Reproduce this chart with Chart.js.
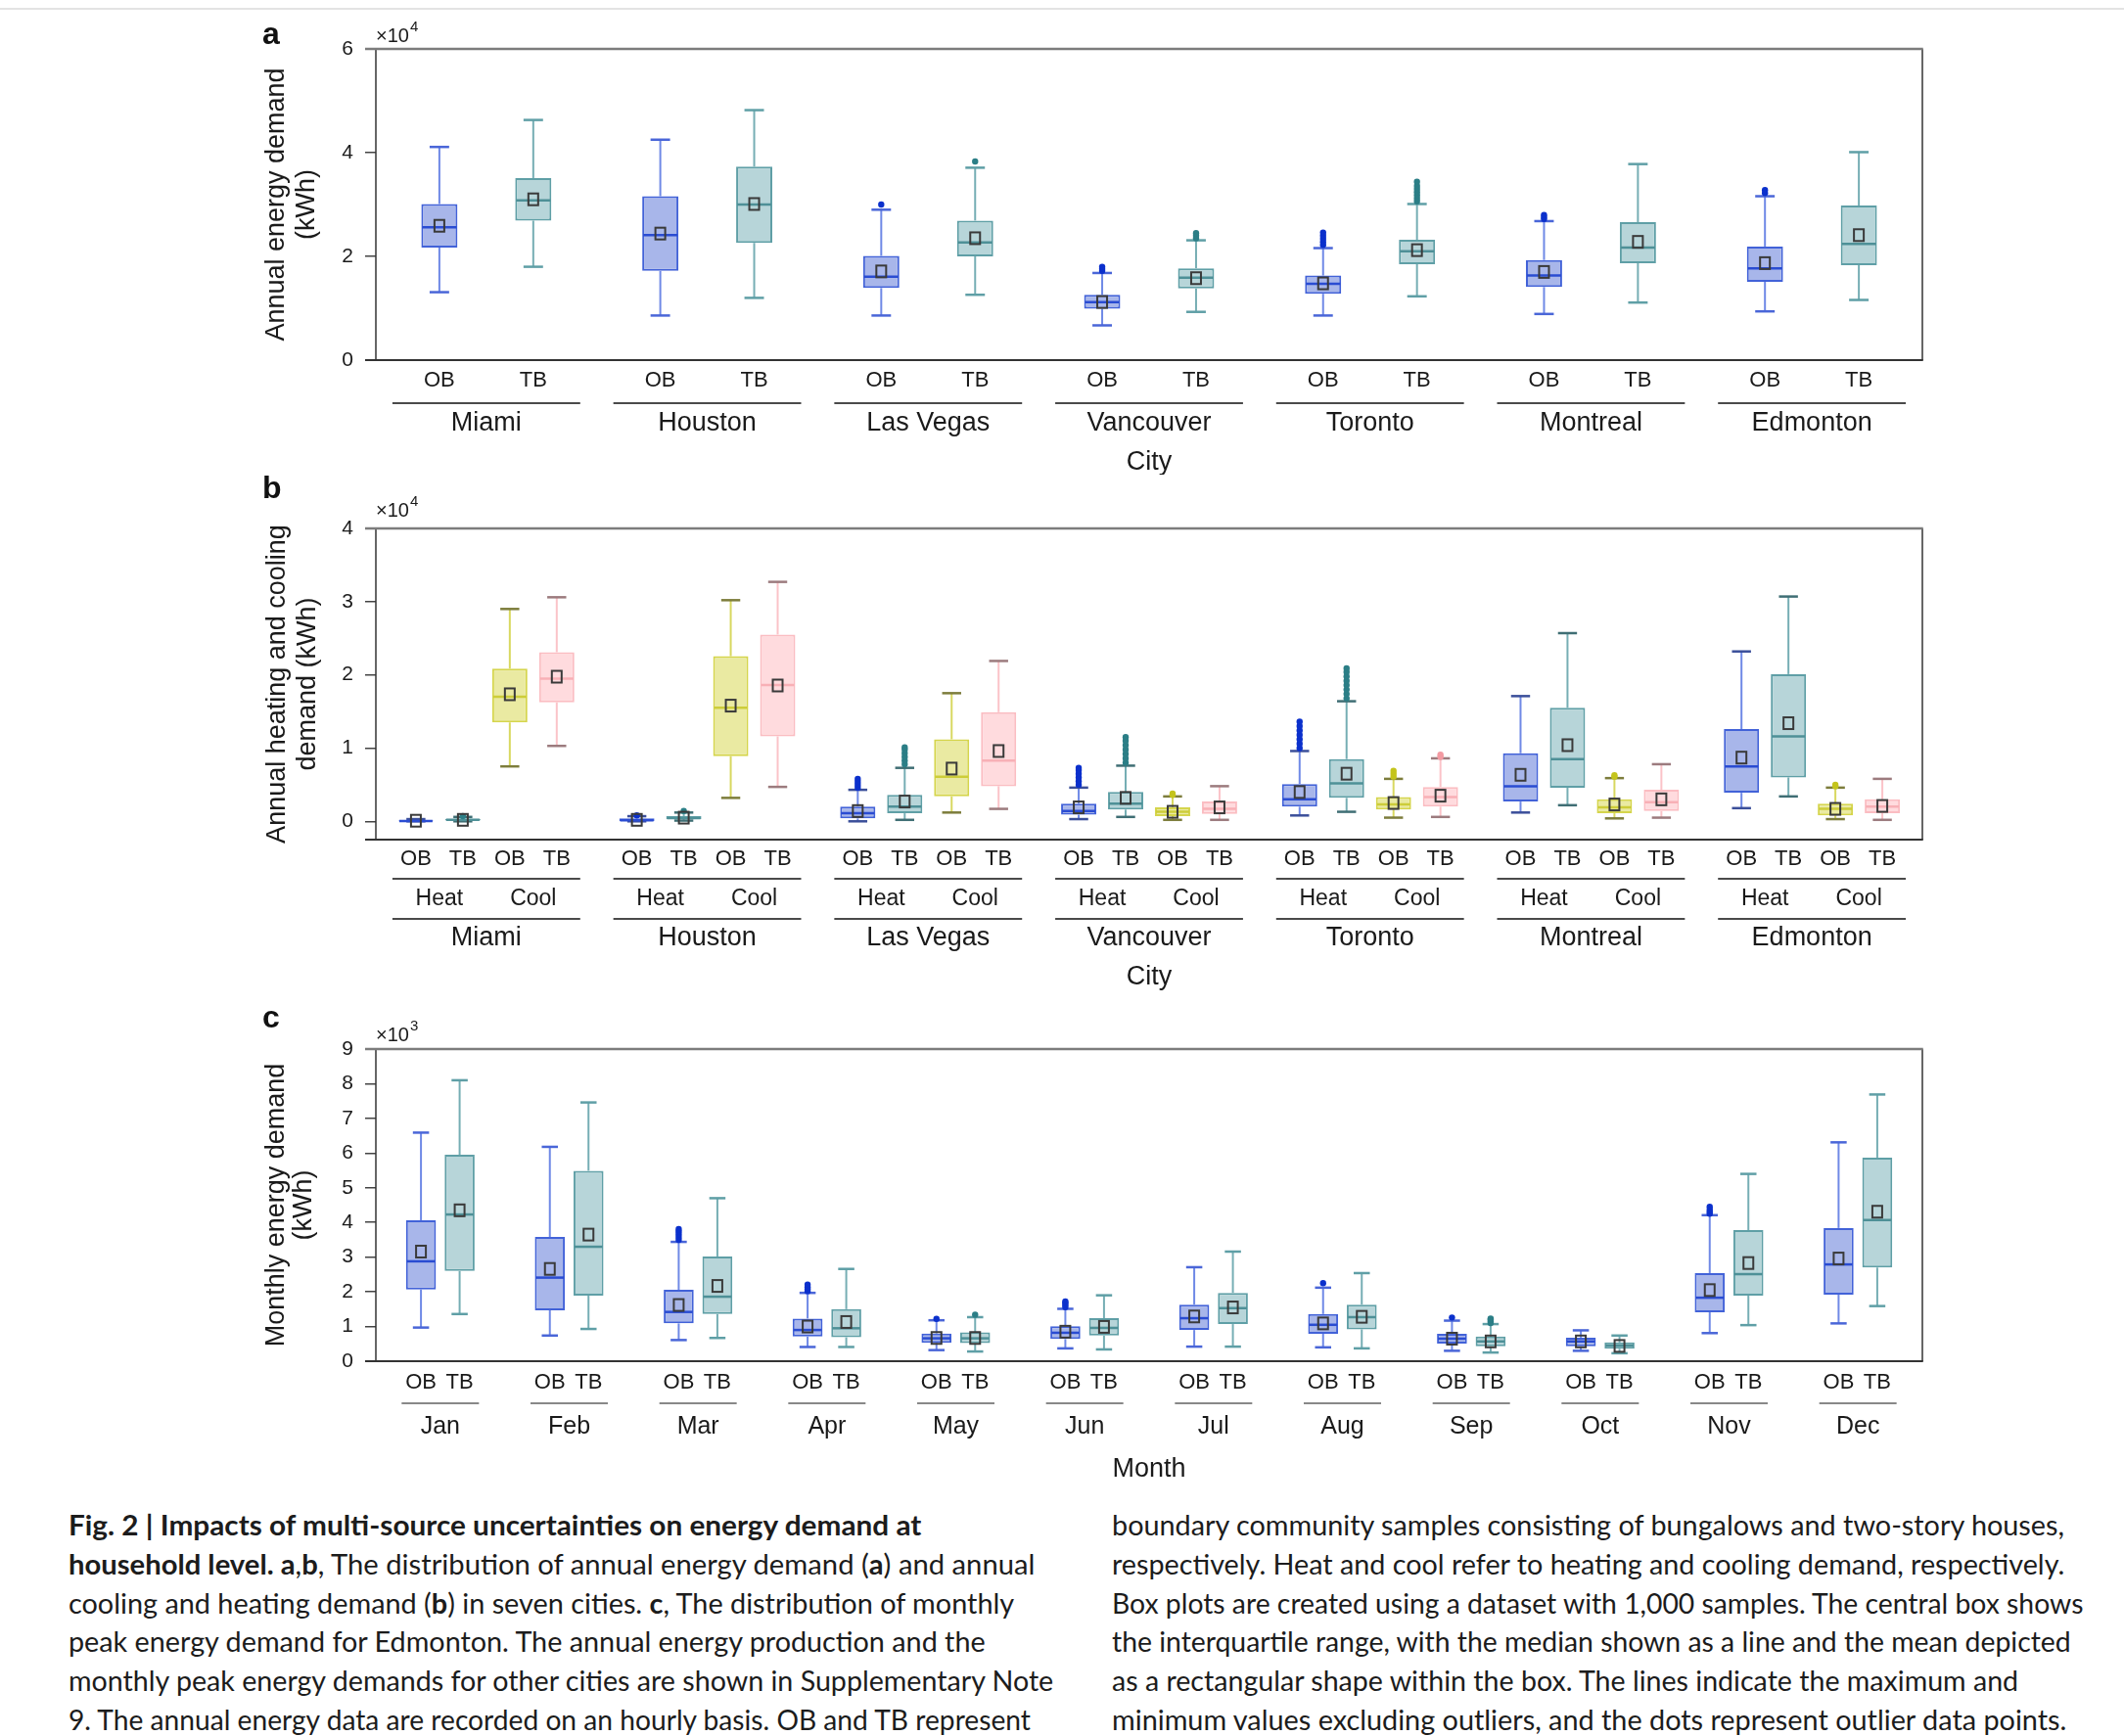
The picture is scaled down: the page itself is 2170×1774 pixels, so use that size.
<!DOCTYPE html>
<html><head><meta charset="utf-8">
<script src="https://cdn.jsdelivr.net/npm/chart.js@4.4.1/dist/chart.umd.min.js"></script>
<style>
html,body{margin:0;padding:0;background:#fff;}
body{width:2170px;height:1774px;position:relative;overflow:hidden;}
canvas{position:absolute;left:0;}
#topline{position:absolute;left:0;top:8px;width:2170px;height:2px;background:#e3e3e3;}
.cl{position:absolute;font-family:Lato,'Noto Sans',sans-serif;font-size:28px;line-height:28px;color:#1c1c1c;white-space:nowrap;transform-origin:0 0;}
.cl b{font-weight:700;}
</style></head><body>
<div id="topline"></div>
<canvas id="ca" width="2170" height="485" style="top:0px"></canvas>
<canvas id="cb" width="2170" height="545" style="top:485px"></canvas>
<canvas id="cc" width="2170" height="500" style="top:1030px"></canvas>
<div id="caption"></div>
<script>
// ---------------- DATA ----------------
const cities = ['Miami','Houston','Las Vegas','Vancouver','Toronto','Montreal','Edmonton'];
const months = ['Jan','Feb','Mar','Apr','May','Jun','Jul','Aug','Sep','Oct','Nov','Dec'];
const ticksA = [0,2,4,6];
const ticksB = [0,1,2,3,4];
const ticksC = [0,1,2,3,4,5,6,7,8,9];
// each row: [min, q1, median, q3, max, mean]  (a, b: x10^4 kWh; c: x10^3 kWh)
const annualOB = [
  [1.31,2.17,2.56,3.01,4.11,2.59],[0.86,1.72,2.41,3.16,4.25,2.44],[0.86,1.39,1.61,2.01,2.90,1.71],
  [0.67,0.99,1.12,1.26,1.68,1.12],[0.86,1.28,1.47,1.63,2.16,1.48],[0.89,1.41,1.63,1.93,2.68,1.70],
  [0.94,1.51,1.77,2.19,3.16,1.87]];
const annualTB = [
  [1.80,2.69,3.08,3.51,4.63,3.10],[1.20,2.26,3.00,3.73,4.82,3.01],[1.26,2.00,2.27,2.69,3.71,2.35],
  [0.93,1.38,1.59,1.77,2.31,1.58],[1.23,1.85,2.10,2.32,3.01,2.12],[1.11,1.87,2.17,2.66,3.78,2.28],
  [1.16,1.83,2.24,2.98,4.01,2.41]];
const annualOBOut = [[],[],[3.00],[1.72,1.76,1.80],[2.22,2.28,2.34,2.40,2.46],[2.72,2.76,2.80],[3.22,3.28]];
const annualTBOut = [[],[],[3.83],[2.35,2.40,2.45],[3.06,3.12,3.18,3.24,3.30,3.36,3.44],[],[]];

const heatOB = [
  [0,0.002,0.005,0.012,0.03,0.008],[0,0.005,0.015,0.04,0.07,0.02],[0,0.04,0.11,0.20,0.43,0.14],
  [0.03,0.09,0.14,0.24,0.46,0.19],[0.08,0.20,0.30,0.51,0.96,0.40],[0.12,0.27,0.48,0.93,1.71,0.635],
  [0.18,0.39,0.75,1.26,2.32,0.87]];
const heatTB = [
  [0,0.01,0.02,0.035,0.06,0.02],[0.01,0.03,0.045,0.07,0.12,0.05],[0.02,0.11,0.20,0.36,0.73,0.27],
  [0.06,0.16,0.24,0.40,0.76,0.32],[0.13,0.32,0.52,0.85,1.64,0.65],[0.22,0.46,0.85,1.55,2.57,1.04],
  [0.34,0.60,1.16,2.01,3.07,1.34]];
const coolOB = [
  [0.75,1.35,1.70,2.085,2.90,1.735],[0.32,0.89,1.55,2.255,3.02,1.58],[0.12,0.34,0.61,1.12,1.75,0.72],
  [0.02,0.07,0.13,0.19,0.34,0.13],[0.05,0.16,0.23,0.33,0.58,0.25],[0.04,0.11,0.19,0.30,0.59,0.23],
  [0.03,0.08,0.17,0.24,0.46,0.17]];
const coolTB = [
  [1.03,1.625,1.95,2.31,3.06,1.975],[0.47,1.16,1.86,2.55,3.27,1.855],[0.17,0.48,0.83,1.49,2.19,0.96],
  [0.02,0.10,0.17,0.27,0.48,0.19],[0.06,0.20,0.33,0.47,0.86,0.35],[0.05,0.14,0.26,0.43,0.78,0.30],
  [0.02,0.11,0.20,0.30,0.58,0.21]];
const heatOBOut = [[],[0.08],[0.46,0.50,0.54,0.58],[0.50,0.55,0.60,0.65,0.70,0.73],[1.00,1.06,1.12,1.18,1.24,1.30,1.36],[],[]];
const heatTBOut = [[0.07],[0.14],[0.78,0.83,0.88,0.93,0.98,1.01],[0.80,0.86,0.92,0.98,1.04,1.10,1.15],[1.68,1.74,1.80,1.86,1.92,1.98,2.04,2.09],[],[]];
const coolOBOut = [[],[],[],[0.36,0.38],[0.61,0.65,0.69],[0.61,0.63],[0.48,0.50]];
const coolTBOut = [[],[],[],[],[0.88,0.91],[],[]];

const monthOB = [
  [0.97,2.07,2.88,4.06,6.59,3.16],[0.74,1.47,2.41,3.58,6.18,2.66],[0.61,1.09,1.42,2.06,3.44,1.62],
  [0.41,0.71,0.90,1.23,1.97,1.00],[0.32,0.53,0.66,0.80,1.18,0.67],[0.37,0.64,0.82,1.01,1.51,0.85],
  [0.42,0.90,1.24,1.63,2.71,1.29],[0.40,0.79,1.05,1.36,2.12,1.09],[0.30,0.51,0.65,0.79,1.17,0.65],
  [0.30,0.43,0.57,0.68,0.89,0.57],[0.81,1.41,1.83,2.54,4.21,2.05],[1.09,1.92,2.79,3.84,6.31,2.96]];
const monthTB = [
  [1.36,2.60,4.23,5.95,8.10,4.35],[0.93,1.89,3.30,5.49,7.46,3.65],[0.67,1.36,1.86,3.02,4.70,2.17],
  [0.41,0.69,0.95,1.50,2.66,1.13],[0.28,0.52,0.66,0.83,1.27,0.67],[0.34,0.74,0.96,1.24,1.90,0.99],
  [0.42,1.07,1.53,1.97,3.16,1.55],[0.37,0.92,1.27,1.63,2.54,1.28],[0.25,0.43,0.57,0.71,1.07,0.57],
  [0.23,0.36,0.45,0.54,0.74,0.44],[1.04,1.89,2.51,3.78,5.40,2.83],[1.59,2.70,4.07,5.87,7.69,4.31]];
const monthOBOut = [[],[],[3.50,3.58,3.66,3.74,3.81],[2.02,2.08,2.14,2.21],[1.22],[1.56,1.62,1.68,1.72],[],[2.25],[1.26],[],[4.25,4.31,4.37,4.45],[]];
const monthTBOut = [[],[],[],[],[1.34],[],[],[],[1.10,1.15,1.20,1.23],[],[],[]];

// ---------------- STYLES ----------------
const styOB = {fill:'#a8b6ea', line:'#4262d8', whisker:'#6f89e6', cap:'#4a66d8', median:'#2a4cd2', out:'#0b30cc'};
const styTB = {fill:'#b7d5d9', line:'#5f9fa6', whisker:'#76aeb4', cap:'#5f9fa6', median:'#4e9097', out:'#2b7e86'};
const styHOB = Object.assign({}, styOB, {cap:'#3b4f9a'});
const styHTB = Object.assign({}, styTB, {cap:'#3f6e74'});
const styCOB = {fill:'#eaeaa2', line:'#d5d54c', whisker:'#d8d860', cap:'#7d7d3c', median:'#cdcd3a', out:'#c4c41c'};
const styCTB = {fill:'#ffdbde', line:'#fbbdc2', whisker:'#fbc3c8', cap:'#9c7b7e', median:'#f8b0b6', out:'#f39aa2'};
const TXT = '#1a1a1a';
const FONT = "'Liberation Sans', Arial, sans-serif";

function line(ctx,x1,y1,x2,y2){ctx.beginPath();ctx.moveTo(x1,y1);ctx.lineTo(x2,y2);ctx.stroke();}
function text(ctx,t,x,y,size,opt){
  opt=opt||{};
  ctx.save(); ctx.fillStyle=opt.color||TXT;
  ctx.font=(opt.bold?'bold ':'')+size+'px '+FONT;
  ctx.textAlign=opt.align||'center'; ctx.textBaseline=opt.base||'middle';
  ctx.fillText(t,x,y); ctx.restore();
}

const boxPlugin = {
  id:'boxes',
  afterDatasetsDraw(chart){
    const ctx=chart.ctx, ys=chart.scales.y;
    const py=v=>ys.getPixelForValue(v);
    chart.data.datasets.forEach((ds,di)=>{
      const meta=chart.getDatasetMeta(di);
      meta.data.forEach((bar,i)=>{
        const r=ds.stats[i], x=bar.x, w=bar.width, s=ds.sty;
        ctx.save();
        ctx.lineCap='butt';
        ctx.strokeStyle=s.whisker; ctx.lineWidth=2;
        line(ctx,x,py(r[3]),x,py(r[4]));
        line(ctx,x,py(r[1]),x,py(r[0]));
        ctx.strokeStyle=s.cap; ctx.lineWidth=2.5;
        line(ctx,x-w*0.27,py(r[4]),x+w*0.27,py(r[4]));
        line(ctx,x-w*0.27,py(r[0]),x+w*0.27,py(r[0]));
        ctx.strokeStyle=s.median; ctx.lineWidth=2.5;
        line(ctx,x-w/2+1,py(r[2]),x+w/2-1,py(r[2]));
        ctx.fillStyle=s.out;
        (ds.outliers[i]||[]).forEach(v=>{ctx.beginPath();ctx.arc(x,py(v),3.2,0,Math.PI*2);ctx.fill();});
        ctx.strokeStyle='#3a3a3a'; ctx.lineWidth=2;
        ctx.strokeRect(x-5,py(r[5])-6,10,12);
        ctx.restore();
      });
    });
  },
  afterDraw(chart){
    const ctx=chart.ctx, a=chart.chartArea, P=chart.options.plugins.panel, off=P.offset;
    const xs=chart.scales.x;
    ctx.save();
    ctx.strokeStyle='#333'; ctx.lineWidth=1.5;
    line(ctx,a.left,a.top,a.left,a.bottom);
    line(ctx,a.right,a.top,a.right,a.bottom);
    ctx.lineWidth=2; line(ctx,a.left-11,a.bottom,a.right+0.75,a.bottom);
    ctx.strokeStyle='#7c7c7c'; ctx.lineWidth=2.5; line(ctx,a.left-11,a.top,a.right+0.75,a.top);
    ctx.restore();
    text(ctx,P.letter,268,P.letterY-off,32,{bold:true,align:'left',base:'alphabetic',color:'#111'});
    text(ctx,'\u00d710',a.left,P.expY-off,20,{align:'left',base:'alphabetic'});
    ctx.save(); ctx.font='20px '+FONT; const ew=ctx.measureText('\u00d710').width; ctx.restore();
    text(ctx,P.exp,a.left+ew+1,P.expY-off-11,15,{align:'left',base:'alphabetic'});
    P.ytitle.forEach((t,k)=>{
      ctx.save(); ctx.translate(P.ytitleX[k],(a.top+a.bottom)/2); ctx.rotate(-Math.PI/2);
      ctx.fillStyle=TXT; ctx.font='27px '+FONT; ctx.textAlign='center'; ctx.textBaseline='middle';
      ctx.fillText(t,0,0); ctx.restore();
    });
    chart.data.datasets.forEach((ds,di)=>{
      chart.getDatasetMeta(di).data.forEach(bar=>{ text(ctx,ds.short,bar.x,P.serY-off,22); });
    });
    const n=chart.data.labels.length, cw=(a.right-a.left)/n, half=cw*P.cat/2;
    ctx.save(); ctx.strokeStyle=P.lineColor; ctx.lineWidth=2;
    chart.data.labels.forEach((lab,i)=>{
      const cx=xs.getPixelForValue(i);
      P.lineYs.forEach(ly=>line(ctx,cx-half,ly-off,cx+half,ly-off));
    });
    ctx.restore();
    if(P.sub){
      chart.data.labels.forEach((lab,i)=>{
        P.sub.forEach(sg=>{
          const b1=chart.getDatasetMeta(sg.ds[0]).data[i], b2=chart.getDatasetMeta(sg.ds[1]).data[i];
          text(ctx,sg.label,(b1.x+b2.x)/2,P.subY-off,23);
        });
      });
    }
    chart.data.labels.forEach((lab,i)=>{ text(ctx,lab,xs.getPixelForValue(i),P.grpY-off,P.grpSize); });
    text(ctx,P.xtitle,(a.left+a.right)/2,P.xtitleY-off,27);
  }
};

function makePanel(cfg){
  const datasets=cfg.series.map(s=>({
    label:s.short, short:s.short, data:s.stats.map(r=>[r[1],r[3]]),
    stats:s.stats, outliers:s.out, sty:s.sty,
    backgroundColor:s.sty.fill, borderColor:s.sty.line, borderWidth:2, borderSkipped:false,
    categoryPercentage:cfg.cat, barPercentage:cfg.bar
  }));
  return new Chart(document.getElementById(cfg.id),{
    type:'bar',
    data:{labels:cfg.labels,datasets},
    options:{
      responsive:false, animation:false, devicePixelRatio:1,
      layout:{padding:{left:334,right:206,top:cfg.plotTop-cfg.offset,bottom:cfg.offset+cfg.height-cfg.plotBottom}},
      plugins:{legend:{display:false},tooltip:{enabled:false},panel:cfg},
      scales:{
        x:{display:false},
        y:{min:cfg.min,max:cfg.max,
          afterFit:s=>{s.width=50;},
          afterBuildTicks:s=>{s.ticks=cfg.ticks.map(v=>({value:v}));},
          grid:{display:true,drawOnChartArea:false,drawTicks:true,tickLength:11,color:'#444',lineWidth:1.5},
          border:{display:false},
          ticks:{padding:12,color:TXT,font:{family:FONT,size:21}}
        }
      }
    },
    plugins:[boxPlugin]
  });
}

makePanel({id:'ca',offset:0,height:485,plotTop:50,plotBottom:368,min:0,max:6,ticks:ticksA,
  labels:cities,cat:0.85,bar:0.385,
  series:[{short:'OB',stats:annualOB,out:annualOBOut,sty:styOB},{short:'TB',stats:annualTB,out:annualTBOut,sty:styTB}],
  letter:'a',letterY:45,exp:'4',expY:43,ytitle:['Annual energy demand','(kWh)'],ytitleX:[283,314],
  serY:389,lineYs:[412],lineColor:'#4a4a4a',grpY:433,grpSize:27,xtitle:'City',xtitleY:473});

makePanel({id:'cb',offset:485,height:545,plotTop:540,plotBottom:858,min:-0.25,max:4,ticks:ticksB,
  labels:cities,cat:0.85,bar:0.75,
  series:[{short:'OB',stats:heatOB,out:heatOBOut,sty:styHOB},{short:'TB',stats:heatTB,out:heatTBOut,sty:styHTB},
          {short:'OB',stats:coolOB,out:coolOBOut,sty:styCOB},{short:'TB',stats:coolTB,out:coolTBOut,sty:styCTB}],
  sub:[{label:'Heat',ds:[0,1]},{label:'Cool',ds:[2,3]}],subY:919,
  letter:'b',letterY:509,exp:'4',expY:528,ytitle:['Annual heating and cooling','demand (kWh)'],ytitleX:[284,315],
  serY:878,lineYs:[898,939],lineColor:'#4a4a4a',grpY:959,grpSize:27,xtitle:'City',xtitleY:999});

makePanel({id:'cc',offset:1030,height:500,plotTop:1072,plotBottom:1391,min:0,max:9,ticks:ticksC,
  labels:months,cat:0.6,bar:0.775,
  series:[{short:'OB',stats:monthOB,out:monthOBOut,sty:styOB},{short:'TB',stats:monthTB,out:monthTBOut,sty:styTB}],
  letter:'c',letterY:1050,exp:'3',expY:1064,ytitle:['Monthly energy demand','(kWh)'],ytitleX:[283,311],
  serY:1413,lineYs:[1434],lineColor:'#888',grpY:1458,grpSize:25,xtitle:'Month',xtitleY:1502});

// ---------------- CAPTION ----------------
const capLeft = [
  '<b>Fig. 2 | Impacts of multi-source uncertainties on energy demand at</b>',
  '<b>household level. a</b>,<b>b</b>, The distribution of annual energy demand (<b>a</b>) and annual',
  'cooling and heating demand (<b>b</b>) in seven cities. <b>c</b>, The distribution of monthly',
  'peak energy demand for Edmonton. The annual energy production and the',
  'monthly peak energy demands for other cities are shown in Supplementary Note',
  '9. The annual energy data are recorded on an hourly basis. OB and TB represent'];
const capRight = [
  'boundary community samples consisting of bungalows and two-story houses,',
  'respectively. Heat and cool refer to heating and cooling demand, respectively.',
  'Box plots are created using a dataset with 1,000 samples. The central box shows',
  'the interquartile range, with the median shown as a line and the mean depicted',
  'as a rectangular shape within the box. The lines indicate the maximum and',
  'minimum values excluding outliers, and the dots represent outlier data points.'];
const leftEnds = [941,1057,1036,1007,1076,1053];
const rightEnds = [2109,2109,2128,2116,2062,2111];
const capEl=document.getElementById('caption');
const capNodes=[];
function addLines(lines,x0,ends){
  lines.forEach((h,i)=>{
    const d=document.createElement('div'); d.className='cl'; d.innerHTML=h;
    d.style.left=x0+'px'; d.style.top=(1566-22+39.8*i)+'px';
    capEl.appendChild(d); capNodes.push([d,ends[i]-x0]);
  });
}
addLines(capLeft,70,leftEnds);
addLines(capRight,1136,rightEnds);
function fit(){ capNodes.forEach(([d,t])=>{ const w=d.offsetWidth; if(w>0) d.style.transform='scaleX('+(t/w)+')'; }); }
fit();
if(document.fonts&&document.fonts.ready) document.fonts.ready.then(fit);
</script>
</body></html>
